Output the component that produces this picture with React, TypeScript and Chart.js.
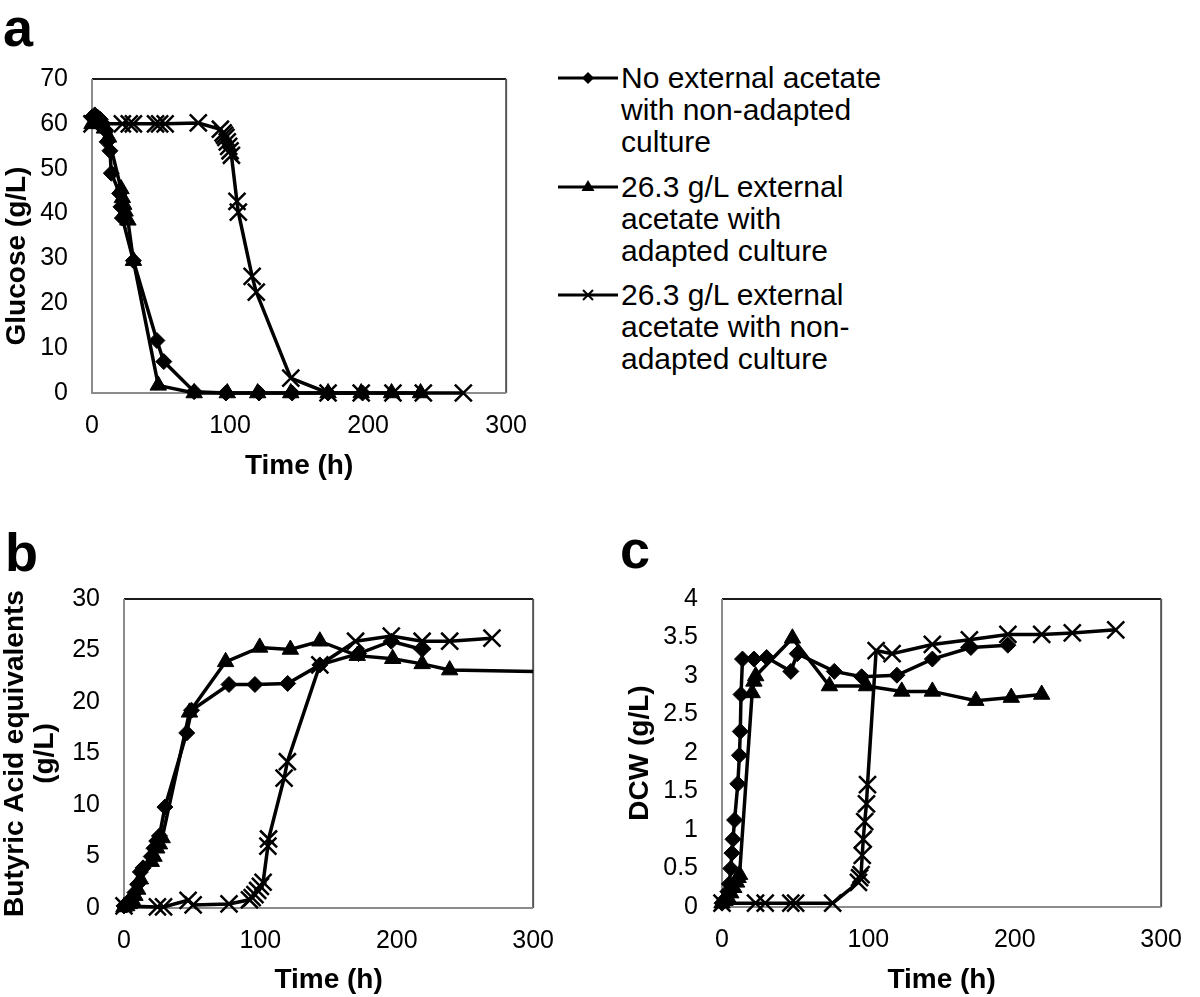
import React, { useEffect, useRef } from "react";
import { Chart, registerables } from "chart.js";

Chart.register(...registerables);

const FONT = "'Liberation Sans', Arial, Helvetica, sans-serif";

// ---------- Panel a: Glucose ----------
const aTimeNoAcetate = [0, 2, 4, 6, 8, 10, 11, 13, 14, 20, 21, 22, 30, 47, 52, 74, 97, 121, 145, 171, 196];
const aGlucoseNoAcetate = [61.5, 62, 61.5, 61, 60, 58.5, 56, 54, 49, 44.5, 41.5, 39, 29.5, 11.7, 7, 0.3, 0, 0, 0, 0, 0];
const aTimeAdapted = [0, 3, 6, 9, 12, 21, 22, 23, 24, 26, 30, 48, 74, 98, 120, 144, 171, 195, 217, 238];
const aGlucoseAdapted = [60, 60.5, 60, 59, 57, 45.5, 43.5, 42, 40.5, 38.5, 29.5, 1.7, 0, 0, 0, 0, 0, 0, 0, 0];
const aTimeNonAdapted = [0, 22, 27, 30, 46, 49, 53, 77, 93, 95, 96, 97, 98, 99, 100, 101, 105, 106, 116, 119, 144, 171, 195, 218, 240, 269];
const aGlucoseNonAdapted = [60, 60, 60, 60, 60, 60, 60, 60.2, 58.8, 58, 57.5, 57, 56, 55, 54, 53, 42.7, 40.3, 26, 22.5, 3.3, 0, 0, 0, 0, 0];

// ---------- Panel b: Butyric acid equivalents ----------
const bTimeNoAcetate = [0, 2, 4, 6, 8, 10, 12, 14, 20, 22, 24, 26, 30, 46, 49.5, 77, 96, 120, 143.6, 172, 196, 218.6];
const bButyricNoAcetate = [0.2, 0.3, 0.5, 1, 1.5, 2.3, 3.5, 3.9, 5, 5.8, 6.5, 7, 9.8, 17, 19.2, 21.7, 21.7, 21.8, 23.6, 24.7, 25.9, 25.1];
const bTimeAdapted = [0, 2, 4, 6, 8, 10, 12, 20, 22, 24, 26, 28, 48, 74.5, 99.5, 122, 143.6, 171, 197, 218.6, 238.8, 330];
const bButyricAdapted = [0.1, 0.2, 0.4, 0.8, 1.2, 1.8, 2.8, 4.5, 5, 5.8, 6.2, 6.8, 19, 23.9, 25.3, 25.1, 25.9, 24.5, 24.2, 23.7, 23.1, 22.9];
const bTimeNonAdapted = [0, 24.5, 29, 47, 50.7, 77, 92, 94, 96, 98, 100, 102, 105.5, 106, 117.4, 119.8, 143.6, 169.8, 196, 218.6, 238.8, 269.8];
const bButyricNonAdapted = [0.2, 0.1, 0.1, 0.75, 0.3, 0.4, 0.8, 1.0, 1.3, 1.7, 2.1, 2.5, 6.0, 6.7, 12.6, 14.2, 23.6, 25.9, 26.4, 25.9, 25.9, 26.2];

// ---------- Panel c: DCW ----------
const cTimeNoAcetate = [0, 2, 4, 5, 6, 6.8, 7.5, 8.6, 10.8, 11.9, 12.5, 13, 14, 21.8, 30.5, 47, 51.4, 76.7, 95.4, 119.5, 143.7, 170, 195.3];
const cDcwNoAcetate = [0.05, 0.1, 0.2, 0.3, 0.5, 0.7, 0.88, 1.13, 1.6, 1.97, 2.28, 2.76, 3.22, 3.22, 3.24, 3.06, 3.29, 3.06, 2.99, 3.01, 3.22, 3.37, 3.4];
const cTimeAdapted = [0, 2, 4, 6, 8, 10, 11, 12, 20.6, 21.8, 23, 48.1, 73.4, 98.7, 122.8, 143.7, 173.4, 197.6, 218.4];
const cDcwAdapted = [0.05, 0.08, 0.12, 0.18, 0.25, 0.32, 0.38, 0.42, 2.78, 2.93, 3.0, 3.49, 2.87, 2.87, 2.8, 2.8, 2.68, 2.72, 2.76];
const cTimeNonAdapted = [0, 22.9, 29.5, 47, 50.3, 75.6, 93.2, 94, 95, 95.8, 96.5, 97.5, 98.7, 99.4, 105.3, 116.2, 143.7, 169, 195.3, 218.4, 239.3, 269];
const cDcwNonAdapted = [0.05, 0.05, 0.05, 0.05, 0.05, 0.05, 0.32, 0.38, 0.42, 0.67, 0.88, 1.11, 1.34, 1.59, 3.33, 3.29, 3.41, 3.47, 3.54, 3.54, 3.56, 3.6];

const xTicks = [0, 100, 200, 300];
const legendLabels = [
  ["No external acetate", "with non-adapted", "culture"],
  ["26.3 g/L external", "acetate with", "adapted culture"],
  ["26.3 g/L external", "acetate with non-", "adapted culture"],
];

type Marker = "rectRot" | "triangle" | "crossRot";

function zip(t: number[], v: number[]) {
  return t.map((x, i) => ({ x, y: v[i] }));
}

function dataset(t: number[], v: number[], marker: Marker, clip: any) {
  const m =
    marker === "rectRot"
      ? { pointRadius: 8, pointBorderWidth: 1 }
      : marker === "triangle"
      ? { pointRadius: 9.5, pointBorderWidth: 1 }
      : { pointRadius: 12, pointBorderWidth: 2.5 };
  return {
    data: zip(t, v),
    showLine: true,
    borderColor: "#000",
    backgroundColor: "#000",
    borderWidth: 3.5,
    pointStyle: marker,
    pointBackgroundColor: "#000",
    pointBorderColor: "#000",
    ...m,
    pointHoverRadius: m.pointRadius,
    tension: 0,
    clip,
  };
}

const framePlugin = {
  id: "frame",
  beforeDatasetsDraw(chart: any) {
    const { ctx, chartArea } = chart;
    const { left, top, right, bottom } = chartArea;
    ctx.save();
    ctx.lineWidth = 2;
    ctx.strokeStyle = "#1a1a1a";
    ctx.beginPath();
    ctx.moveTo(left, top);
    ctx.lineTo(right, top);
    ctx.stroke();
    ctx.strokeStyle = "#555";
    ctx.beginPath();
    ctx.moveTo(right, top);
    ctx.lineTo(right, bottom);
    ctx.stroke();
    ctx.strokeStyle = "#8c8c8c";
    ctx.beginPath();
    ctx.moveTo(left, top);
    ctx.lineTo(left, bottom);
    ctx.lineTo(right, bottom);
    ctx.stroke();
    ctx.restore();
  },
};

interface PanelSpec {
  w: number;
  h: number;
  plot: { left: number; top: number; right: number; bottom: number };
  datasets: any[];
  yMax: number;
  yStep: number;
  yTitle: string | string[] | null;
  yTitlePad: number;
  yTitleLineHeight: number;
  xTitlePad: number;
}

function makeConfig(s: PanelSpec): any {
  return {
    type: "scatter",
    data: { datasets: s.datasets },
    plugins: [framePlugin],
    options: {
      responsive: false,
      animation: false,
      devicePixelRatio: 1,
      events: [],
      layout: { padding: { left: 0, top: s.plot.top, right: s.w - s.plot.right, bottom: 0 } },
      plugins: { legend: { display: false }, tooltip: { enabled: false } },
      scales: {
        x: {
          type: "linear",
          min: 0,
          max: 300,
          afterFit: (sc: any) => {
            sc.height = s.h - s.plot.bottom;
          },
          afterBuildTicks: (sc: any) => {
            sc.ticks = xTicks.map((v) => ({ value: v }));
          },
          grid: { display: false, drawTicks: false },
          border: { display: false },
          ticks: {
            color: "#000",
            padding: 18,
            maxRotation: 0,
            font: { family: FONT, size: 25 },
            callback: (v: any) => String(v),
          },
          title: {
            display: true,
            text: "Time (h)",
            color: "#000",
            font: { family: FONT, size: 28, weight: "bold", lineHeight: 1.2 },
            padding: { top: 0, bottom: s.xTitlePad },
          },
        },
        y: {
          type: "linear",
          min: 0,
          max: s.yMax,
          afterFit: (sc: any) => {
            sc.width = s.plot.left;
          },
          grid: { display: false, drawTicks: false },
          border: { display: false },
          ticks: {
            stepSize: s.yStep,
            color: "#000",
            padding: 24,
            font: { family: FONT, size: 25 },
            callback: (v: any) => String(v),
          },
          title: {
            display: s.yTitle !== null,
            text: s.yTitle ?? "",
            color: "#000",
            font: { family: FONT, size: 28, weight: "bold", lineHeight: s.yTitleLineHeight },
            padding: { top: s.yTitlePad, bottom: 0 },
          },
        },
      },
    },
  };
}

function Panel({ left, top, spec }: { left: number; top: number; spec: PanelSpec }) {
  const ref = useRef<HTMLCanvasElement>(null);
  useEffect(() => {
    const chart = new Chart(ref.current as HTMLCanvasElement, makeConfig(spec));
    return () => chart.destroy();
  }, []);
  return (
    <div style={{ position: "absolute", left, top, width: spec.w, height: spec.h }}>
      <canvas ref={ref} width={spec.w} height={spec.h} style={{ display: "block" }} />
    </div>
  );
}

const clipEdge = { left: 16, top: 16, right: 16, bottom: 16 };
const clipNoRight = { left: 16, top: 16, right: 0, bottom: 16 };

const specA: PanelSpec = {
  w: 545,
  h: 460,
  plot: { left: 92, top: 23, right: 515, bottom: 353 },
  datasets: [
    dataset(aTimeNonAdapted, aGlucoseNonAdapted, "crossRot", clipEdge),
    dataset(aTimeAdapted, aGlucoseAdapted, "triangle", clipEdge),
    dataset(aTimeNoAcetate, aGlucoseNoAcetate, "rectRot", clipEdge),
  ],
  yMax: 70,
  yStep: 10,
  yTitle: null,
  yTitlePad: 0,
  yTitleLineHeight: 1.2,
  xTitlePad: 17,
};

const specB: PanelSpec = {
  w: 572,
  h: 437,
  plot: { left: 124, top: 28, right: 544, bottom: 348 },
  datasets: [
    dataset(bTimeNonAdapted, bButyricNonAdapted, "crossRot", clipEdge),
    dataset(bTimeAdapted, bButyricAdapted, "triangle", clipNoRight),
    dataset(bTimeNoAcetate, bButyricNoAcetate, "rectRot", clipEdge),
  ],
  yMax: 30,
  yStep: 5,
  yTitle: ["Butyric Acid equivalents", "(g/L)"],
  yTitlePad: 1,
  yTitleLineHeight: 1.05,
  xTitlePad: 0,
};

const specC: PanelSpec = {
  w: 600,
  h: 437,
  plot: { left: 122, top: 28, right: 577, bottom: 347 },
  datasets: [
    dataset(cTimeNonAdapted, cDcwNonAdapted, "crossRot", clipEdge),
    dataset(cTimeAdapted, cDcwAdapted, "triangle", clipEdge),
    dataset(cTimeNoAcetate, cDcwNoAcetate, "rectRot", clipEdge),
  ],
  yMax: 4,
  yStep: 0.5,
  yTitle: "DCW (g/L)",
  yTitlePad: 23,
  yTitleLineHeight: 1.2,
  xTitlePad: 0,
};

function LegendMarker({ kind }: { kind: Marker }) {
  return (
    <svg width={62} height={32} style={{ position: "absolute", left: 0, top: 0 }}>
      <line x1={0} y1={16} x2={60} y2={16} stroke="#000" strokeWidth={3} />
      {kind === "rectRot" && <polygon points="30,10 36,16 30,22 24,16" fill="#000" />}
      {kind === "triangle" && <polygon points="30,9 36.5,20 23.5,20" fill="#000" />}
      {kind === "crossRot" && (
        <g stroke="#000" strokeWidth={2}>
          <line x1={25} y1={11} x2={35} y2={21} />
          <line x1={25} y1={21} x2={35} y2={11} />
        </g>
      )}
    </svg>
  );
}

const legendMarkers: Marker[] = ["rectRot", "triangle", "crossRot"];
const legendTops = [62, 171, 279];

function Legend() {
  return (
    <>
      {legendLabels.map((lines, i) => (
        <div key={i} style={{ position: "absolute", left: 558, top: legendTops[i], width: 400 }}>
          <LegendMarker kind={legendMarkers[i]} />
          <div
            style={{
              position: "absolute",
              left: 63,
              top: 0,
              fontFamily: FONT,
              fontSize: 30,
              lineHeight: "32px",
              color: "#000",
              whiteSpace: "nowrap",
            }}
          >
            {lines.map((l, j) => (
              <div key={j}>{l}</div>
            ))}
          </div>
        </div>
      ))}
    </>
  );
}

function Letter({ text, left, top }: { text: string; left: number; top: number }) {
  return (
    <div
      style={{
        position: "absolute",
        left,
        top,
        fontFamily: FONT,
        fontWeight: "bold",
        fontSize: 54,
        lineHeight: "54px",
        color: "#000",
      }}
    >
      {text}
    </div>
  );
}

function RotatedTitle({ text, cx, cy }: { text: string; cx: number; cy: number }) {
  return (
    <div
      style={{
        position: "absolute",
        left: cx,
        top: cy,
        transform: "translate(-50%, -50%) rotate(-90deg)",
        fontFamily: FONT,
        fontWeight: "bold",
        fontSize: 28,
        lineHeight: "32px",
        whiteSpace: "nowrap",
        color: "#000",
      }}
    >
      {text}
    </div>
  );
}

export default function App() {
  return (
    <div style={{ position: "absolute", left: 0, top: 0, width: 1200, height: 997, background: "#fff", overflow: "hidden" }}>
      <Panel left={0} top={40} spec={specA} />
      <Panel left={0} top={560} spec={specB} />
      <Panel left={600} top={560} spec={specC} />
      <RotatedTitle text="Glucose (g/L)" cx={16} cy={256} />
      <Legend />
      <Letter text="a" left={3} top={0} />
      <Letter text="b" left={5} top={525} />
      <Letter text="c" left={620} top={522} />
    </div>
  );
}
